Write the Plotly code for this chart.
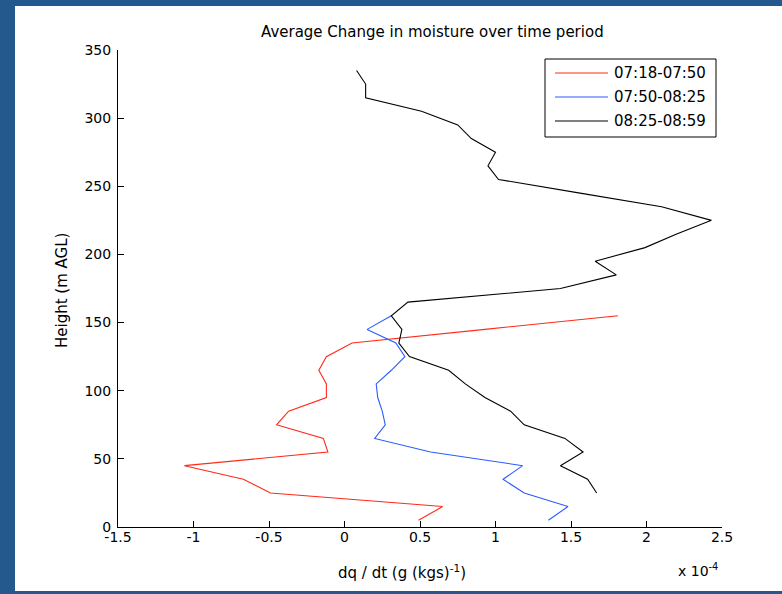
import plotly.graph_objects as go

# Height levels (m AGL) and mean moisture tendency dq/dt (x 1e-4 g (kg s)^-1)
heights_a = [5, 15, 25, 35, 45, 55, 65, 75, 85, 95, 105, 115, 125, 135, 145, 155]
dqdt_a = [0.49, 0.65, -0.49, -0.67, -1.06, -0.11, -0.14, -0.45, -0.37, -0.12,
          -0.12, -0.17, -0.12, 0.05, 0.93, 1.81]

heights_b = [5, 15, 25, 35, 45, 55, 65, 75, 85, 95, 105, 115, 125, 135, 145, 155]
dqdt_b = [1.35, 1.48, 1.19, 1.05, 1.18, 0.57, 0.20, 0.27, 0.25, 0.22,
          0.21, 0.31, 0.40, 0.34, 0.15, 0.31]

heights_c = [25, 35, 45, 55, 65, 75, 85, 95, 105, 115, 125, 135, 145, 155, 165,
             175, 185, 195, 205, 215, 225, 235, 245, 255, 265, 275, 285, 295,
             305, 315, 325, 335]
dqdt_c = [1.67, 1.61, 1.43, 1.58, 1.46, 1.19, 1.10, 0.93, 0.80, 0.69, 0.43,
          0.36, 0.38, 0.31, 0.42, 1.43, 1.80, 1.66, 1.99, 2.20, 2.43, 2.10,
          1.56, 1.02, 0.95, 1.00, 0.84, 0.75, 0.51, 0.14, 0.14, 0.08]

period_names = ["07:18-07:50", "07:50-08:25", "08:25-08:59"]
period_colors = ["#ff2a1a", "#2a5cff", "#000000"]

x_ticks = [-1.5, -1, -0.5, 0, 0.5, 1, 1.5, 2, 2.5]
y_ticks = [0, 50, 100, 150, 200, 250, 300, 350]

FONT = "DejaVu Sans, Liberation Sans, Arial, sans-serif"
W, H = 782, 594
ML, MR, MT, MB = 118, 60, 50, 67
PW, PH = W - ML - MR, H - MT - MB


def px(x):
    """Horizontal pixel -> paper coordinate."""
    return (x - ML) / PW


def py(y):
    """Vertical pixel (from top) -> paper coordinate."""
    return (H - MB - y) / PH


fig = go.Figure()
series = [(dqdt_a, heights_a), (dqdt_b, heights_b), (dqdt_c, heights_c)]
for (xs, ys), name, col in zip(series, period_names, period_colors):
    fig.add_trace(go.Scatter(x=xs, y=ys, mode="lines", name=name,
                             line=dict(color=col, width=1.1),
                             showlegend=False))

shapes = [
    # white figure panel inside the blue frame
    dict(type="rect", xref="paper", yref="paper", layer="below",
         x0=px(15), x1=px(800), y0=py(591), y1=py(6),
         fillcolor="white", line=dict(width=0)),
    # legend box
    dict(type="rect", xref="paper", yref="paper",
         x0=px(545), x1=px(716), y0=py(137), y1=py(59),
         fillcolor="white", line=dict(color="black", width=1)),
]
annotations = [
    dict(text="Average Change in moisture over time period", x=px(432), y=py(32),
         xref="paper", yref="paper", showarrow=False, xanchor="center",
         yanchor="middle", font=dict(family=FONT, size=15, color="black")),
    dict(text="Height (m AGL)", x=px(62), y=py(291), xref="paper", yref="paper",
         showarrow=False, textangle=-90, xanchor="center", yanchor="middle",
         font=dict(family=FONT, size=15, color="black")),
    dict(text="dq / dt (g (kgs)<sup>-1</sup>)", x=px(402), y=py(572),
         xref="paper", yref="paper", showarrow=False, xanchor="center",
         yanchor="middle", font=dict(family=FONT, size=15, color="black")),
    dict(text="x 10<sup>-4</sup>", x=px(698), y=py(570), xref="paper",
         yref="paper", showarrow=False, xanchor="center", yanchor="middle",
         font=dict(family=FONT, size=14, color="black")),
]
row_y = [73, 97, 121]
for name, col, ry in zip(period_names, period_colors, row_y):
    shapes.append(dict(type="line", xref="paper", yref="paper",
                       x0=px(555), x1=px(608), y0=py(ry), y1=py(ry),
                       line=dict(color=col, width=1.2)))
    annotations.append(dict(text=name, x=px(612), y=py(ry), xref="paper",
                            yref="paper", showarrow=False, xanchor="left",
                            yanchor="middle",
                            font=dict(family=FONT, size=15, color="black")))

axis_common = dict(showgrid=False, zeroline=False, showline=True,
                   linecolor="black", linewidth=1, ticks="inside", ticklen=6,
                   tickwidth=1, tickcolor="black", mirror=False,
                   tickfont=dict(family=FONT, size=14, color="black"))

fig.update_layout(
    width=W, height=H,
    margin=dict(l=ML, r=MR, t=MT, b=MB, pad=0),
    paper_bgcolor="#23598c", plot_bgcolor="white",
    shapes=shapes, annotations=annotations,
    xaxis=dict(range=[-1.5, 2.5], tickvals=x_ticks,
               ticktext=[f"{v:g}" for v in x_ticks], ticklabelstandoff=-3,
               **axis_common),
    yaxis=dict(range=[0, 350], tickvals=y_ticks,
               ticktext=[str(v) for v in y_ticks], ticklabelstandoff=3,
               **axis_common),
    showlegend=False,
)

fig.write_html("out.html")
